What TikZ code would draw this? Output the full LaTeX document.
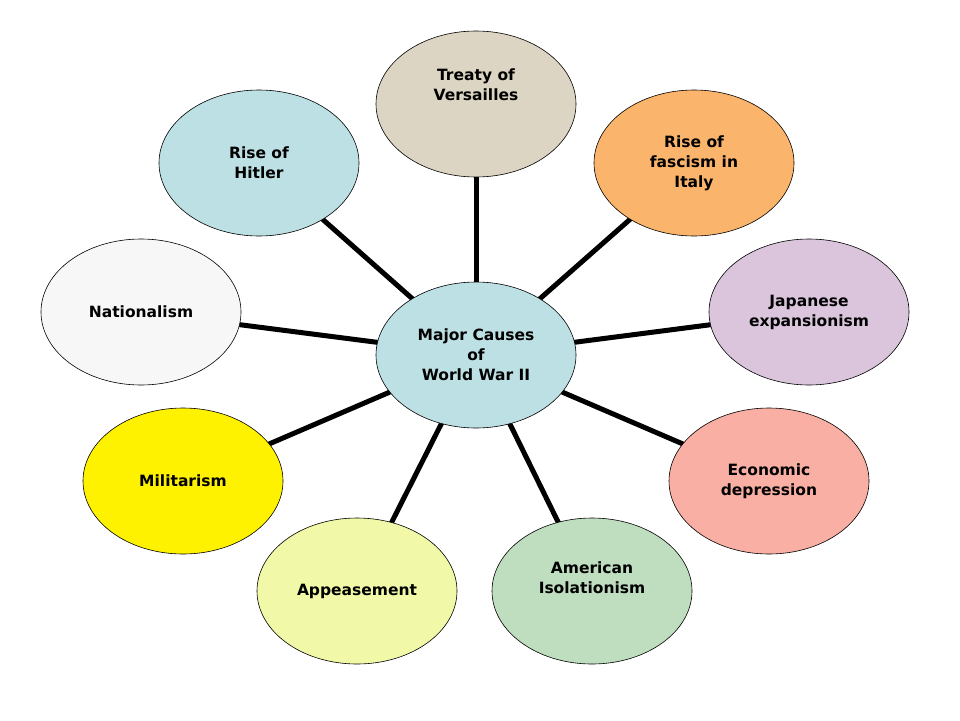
\documentclass[tikz,border=0pt]{standalone}
\usepackage{fontspec}
\setmainfont{DejaVu Sans}
\usetikzlibrary{shapes.geometric,backgrounds}
\definecolor{cCenter}{HTML}{BDE0E4}
\definecolor{cTreaty}{HTML}{DDD5C3}
\definecolor{cFasc}{HTML}{FBB46C}
\definecolor{cJap}{HTML}{DAC5DD}
\definecolor{cEco}{HTML}{F9AFA3}
\definecolor{cAm}{HTML}{BFDDBF}
\definecolor{cApp}{HTML}{F1F9A8}
\definecolor{cNat}{HTML}{F7F7F7}
\tikzset{bub/.style={ellipse,draw=black,line width=0.6pt,minimum width=200pt,minimum height=146pt,inner sep=0pt,align=center,font=\fontsize{15.5}{20}\selectfont\bfseries},
link/.style={line width=5pt,black}}
\begin{document}
\begin{tikzpicture}[x=1pt,y=-1pt]
\useasboundingbox (0,0) rectangle (960,720);
\node[bub,fill=cCenter] (c) at (476,355) {Major Causes\\of\\ World War II};
\node[bub,fill=cTreaty] (t) at (476,104) {Treaty of\\Versailles\\[18pt]};
\node[bub,fill=cFasc] (f) at (694,163) {Rise of\\fascism in\\Italy};
\node[bub,fill=cJap] (j) at (809,312) {Japanese\\expansionism};
\node[bub,fill=cEco] (e) at (769,481) {Economic\\depression};
\node[bub,fill=cAm] (a) at (592,591) {American\\Isolationism\\[6pt]};
\node[bub,fill=cApp] (p) at (357,591) {Appeasement};
\node[bub,fill=yellow] (m) at (183,481) {Militarism};
\node[bub,fill=cNat] (n) at (141,312) {Nationalism};
\node[bub,fill=cCenter] (h) at (259,163) {Rise of\\ Hitler};
\begin{scope}[on background layer]
\foreach \x in {t,f,j,e,a,p,m,n,h} \draw[link] (c.center) -- (\x.center);
\end{scope}
\end{tikzpicture}
\end{document}
